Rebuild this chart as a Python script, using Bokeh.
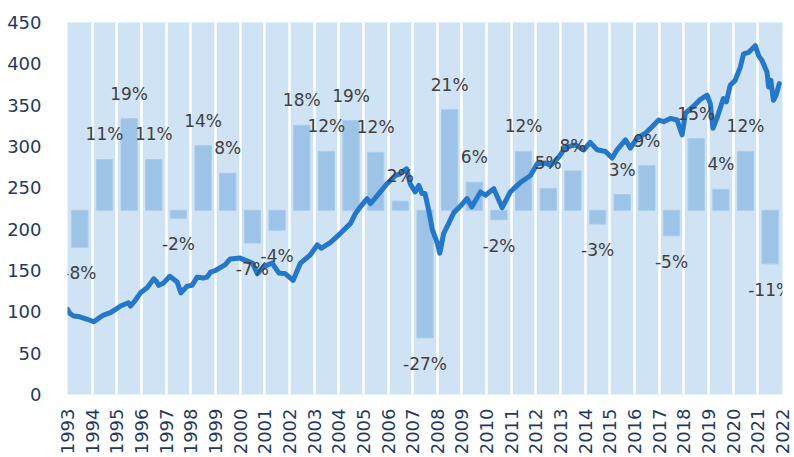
import math
from bokeh.plotting import figure
from bokeh.models import Range1d, FixedTicker, ColumnDataSource, LabelSet
from bokeh.core.properties import value
from bokeh.embed import file_html
from bokeh.resources import INLINE

# ---- data ----
years = list(range(1993, 2022))
tick_years = list(range(1993, 2023))
annual_returns = [-0.078, 0.107, 0.193, 0.107, -0.017, 0.136, 0.078, -0.069, -0.042, 0.179,
                  0.124, 0.189, 0.122, 0.019, -0.269, 0.212, 0.059, -0.020, 0.124, 0.046,
                  0.083, -0.029, 0.033, 0.094, -0.054, 0.151, 0.044, 0.124, -0.113]

index_time = [1993.00, 1993.10, 1993.25, 1993.50, 1993.80, 1994.07, 1994.30, 1994.46, 1994.74, 1995.00,
              1995.15, 1995.47, 1995.55, 1995.75, 1995.96, 1996.23, 1996.50, 1996.60, 1996.70, 1996.90,
              1997.15, 1997.45, 1997.60, 1997.85, 1998.05, 1998.26, 1998.50, 1998.66, 1998.80, 1999.00,
              1999.40, 1999.60, 2000.00, 2000.25, 2000.50, 2000.70, 2000.96, 2001.30, 2001.57, 2001.84,
              2002.15, 2002.45, 2002.85, 2003.13, 2003.30, 2003.67, 2004.07, 2004.48, 2004.68, 2004.88,
              2005.15, 2005.29, 2005.63, 2005.96, 2006.30, 2006.50, 2006.75, 2006.90, 2007.10, 2007.25,
              2007.38, 2007.50, 2007.65, 2007.80, 2008.00, 2008.10, 2008.26, 2008.46, 2008.67, 2008.94,
              2009.20, 2009.40, 2009.75, 2009.95, 2010.29, 2010.63, 2010.96, 2011.17, 2011.44, 2011.78,
              2012.05, 2012.38, 2012.59, 2012.92, 2013.20, 2013.60, 2013.94, 2014.20, 2014.48, 2014.82,
              2015.09, 2015.29, 2015.63, 2015.83, 2016.10, 2016.44, 2016.71, 2016.98, 2017.18, 2017.45,
              2017.72, 2017.93, 2018.06, 2018.40, 2018.67, 2018.94, 2019.07, 2019.18, 2019.34, 2019.60,
              2019.72, 2019.88, 2020.08, 2020.29, 2020.42, 2020.63, 2020.76, 2020.90, 2021.03, 2021.17,
              2021.37, 2021.44, 2021.53, 2021.63, 2021.74, 2021.87]
index_value = [103, 98, 95, 94, 91, 88, 93, 96, 99, 104,
               107, 111, 107, 114, 123, 129, 140, 137, 132, 135,
               143, 136, 123, 131, 132, 142, 141, 142, 148, 150,
               157, 164, 165, 162, 159, 146, 155, 159, 147, 146,
               138, 159, 169, 181, 177, 184, 195, 207, 219, 227,
               237, 231, 243, 255, 265, 267, 273, 255, 245, 253,
               243, 243, 223, 199, 183, 171, 195, 207, 220, 228,
               237, 227, 245, 241, 249, 226, 245, 251, 258, 265,
               279, 280, 277, 287, 299, 302, 296, 305, 296, 294,
               286, 296, 308, 298, 310, 316, 324, 332, 330, 334,
               332, 314, 340, 349, 357, 362, 352, 322, 334, 358,
               354, 374, 380, 396, 412, 414, 418, 422, 410, 404,
               390, 372, 380, 356, 362, 376]

FONT = "DejaVu Sans"

p = figure(width=794, height=457, output_backend="svg", toolbar_location=None,
           x_range=Range1d(1993, 2022), y_range=Range1d(0, 450),
           min_border_left=67, min_border_right=12, min_border_top=22, min_border_bottom=10)
p.extra_y_ranges = {"pct": Range1d(-0.3884, 0.3958)}

p.background_fill_color = "#cfe3f5"
p.border_fill_color = "white"
p.outline_line_color = None

p.xgrid.ticker = FixedTicker(ticks=tick_years)
p.xgrid.grid_line_color = "white"
p.xgrid.grid_line_width = 2.5
p.ygrid.grid_line_color = None

# bars (annual returns)
bar_src = ColumnDataSource(dict(
    x=[y + 0.5 for y in years],
    top=annual_returns,
))
p.vbar(x="x", top="top", bottom=0, width=0.66, source=bar_src, y_range_name="pct",
       fill_color="#9dc3e6", line_color="#a9cbea", line_width=1)

# index line
p.line(index_time, index_value, line_color="#2477c9", line_width=5, line_join="round", line_cap="round")

# labels
lbl_src = ColumnDataSource(dict(
    x=[y + 0.5 for y in years],
    y=annual_returns,
    text=[f"{round(v * 100):d}%" for v in annual_returns],
    off=[25 if v >= 0 else -26 for v in annual_returns],
))
labels = LabelSet(x="x", y="y", text="text", y_offset="off", source=lbl_src, y_range_name="pct",
                  text_align="center", text_baseline="middle", text_color="#404040",
                  text_font=value(FONT), text_font_size="17px")
p.add_layout(labels)

# axes
p.yaxis.ticker = FixedTicker(ticks=list(range(0, 451, 50)))
p.xaxis.ticker = FixedTicker(ticks=tick_years)
p.xaxis.major_label_overrides = {y: str(y) for y in tick_years}
p.xaxis.major_label_orientation = math.pi / 2
for ax in (p.xaxis, p.yaxis):
    ax.axis_line_color = None
    ax.major_tick_line_color = None
    ax.minor_tick_line_color = None
    ax.major_label_text_font = FONT
    ax.major_label_text_font_size = "18px"
    ax.major_label_text_color = "#1f3a60"
p.yaxis.major_label_standoff = 20
p.xaxis.major_label_standoff = 8

open("out.html", "w").write(file_html(p, INLINE))
